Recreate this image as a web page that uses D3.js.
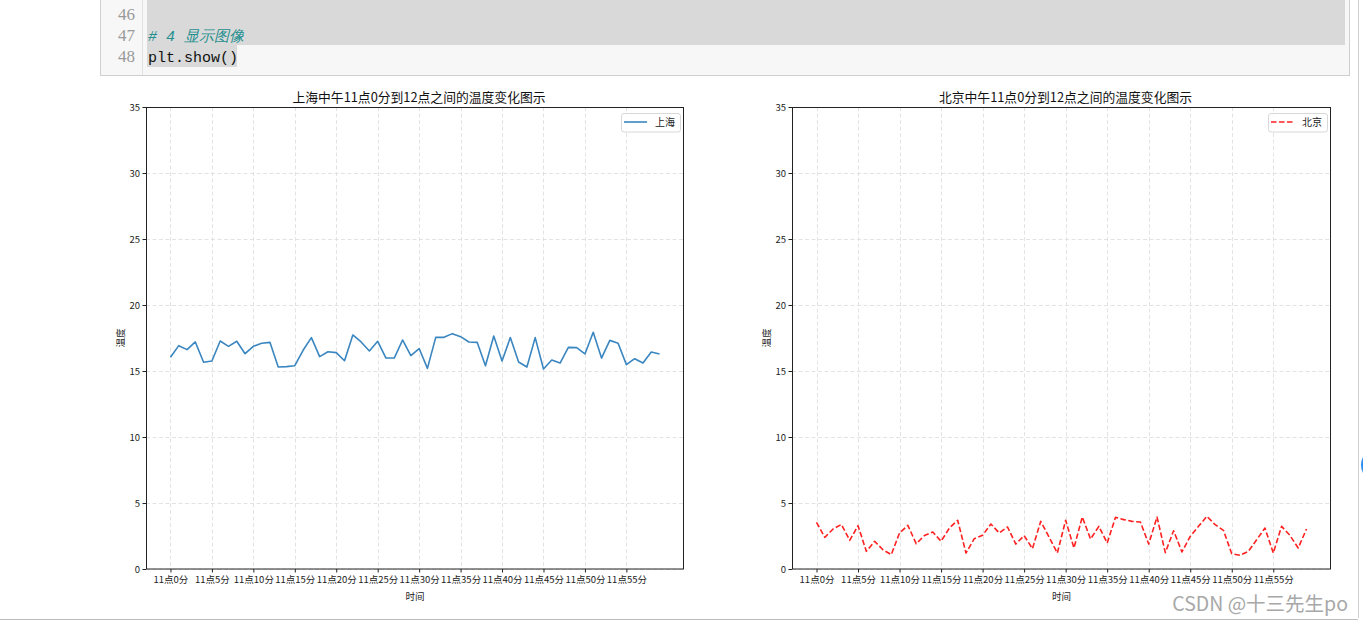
<!DOCTYPE html>
<html><head><meta charset="utf-8">
<script src="https://cdn.jsdelivr.net/npm/d3@7"></script>
<style>
body{margin:0;background:#fff;}
svg{display:block;}
</style></head>
<body>
<svg id="c" width="1363" height="623"></svg>
<script>
// ---- data ----
const minuteIndex = [0,1,2,3,4,5,6,7,8,9,10,11,12,13,14,15,16,17,18,19,20,21,22,23,24,25,26,27,28,29,30,31,32,33,34,35,36,37,38,39,40,41,42,43,44,45,46,47,48,49,50,51,52,53,54,55,56,57,58,59];
const shanghai = [16.04,16.92,16.62,17.2,15.66,15.76,17.27,16.87,17.25,16.31,
  16.87,17.1,17.17,15.3,15.33,15.4,16.57,17.53,16.09,16.46,
  16.39,15.78,17.73,17.2,16.52,17.25,15.98,15.98,17.35,16.16,
  16.7,15.2,17.55,17.55,17.83,17.6,17.2,17.17,15.4,17.65,
  15.76,17.53,15.68,15.3,17.53,15.15,15.83,15.6,16.79,16.77,
  16.29,17.93,15.98,17.32,17.1,15.48,15.93,15.6,16.44,16.29];
const beijing = [3.54,2.4,3.03,3.38,2.17,3.28,1.34,2.1,1.46,1.09,
  2.73,3.31,1.92,2.53,2.8,2.1,3.1,3.69,1.21,2.3,
  2.55,3.41,2.73,3.18,1.89,2.53,1.54,3.61,2.42,1.21,
  3.69,1.59,3.94,2.27,3.23,1.97,3.91,3.74,3.61,3.56,
  1.89,3.94,1.24,2.9,1.29,2.47,3.23,3.99,3.36,2.93,
  1.16,1.04,1.34,2.22,3.1,1.21,3.23,2.55,1.59,3.03];
const xTickPos = [0,5,10,15,20,25,30,35,40,45,50,55];
const xTickLabels = ["11点0分","11点5分","11点10分","11点15分","11点20分","11点25分","11点30分","11点35分","11点40分","11点45分","11点50分","11点55分"];
const yTicks = [0,5,10,15,20,25,30,35];
const titles = ["上海中午11点0分到12点之间的温度变化图示","北京中午11点0分到12点之间的温度变化图示"];
const seriesNames = ["上海","北京"];

// ---- layout ----
const svg = d3.select("#c");
const FONT = "'Noto Sans CJK SC','Noto Sans',sans-serif";
const MONO = "'Liberation Mono','DejaVu Sans Mono',monospace";

// notebook code cell
const cell = svg.append("g");
cell.append("rect").attr("x",100.5).attr("y",-5).attr("width",1249).attr("height",80.5)
  .attr("fill","#f7f7f7").attr("stroke","#cfcfcf");
cell.append("rect").attr("x",147).attr("y",0).attr("width",1198).attr("height",45).attr("fill","#d9d9d9");
cell.append("rect").attr("x",147).attr("y",45).attr("width",90).attr("height",22).attr("fill","#d9d9d9");
cell.append("line").attr("x1",142.5).attr("x2",142.5).attr("y1",0).attr("y2",75).attr("stroke","#e2e2e2");
[["46",20],["47",41],["48",62]].forEach(([t,y])=>{
  cell.append("text").attr("x",135).attr("y",y).attr("text-anchor","end")
    .attr("font-family","'Liberation Serif',serif").attr("font-size",17).attr("fill","#999").text(t);
});
cell.append("text").attr("x",148).attr("y",41).attr("font-family",MONO).attr("font-size",15)
  .attr("font-style","italic").attr("fill","#1f8f8f").text("# 4 显示图像");
cell.append("text").attr("x",148).attr("y",62).attr("font-family",MONO).attr("font-size",15)
  .attr("fill","#111").text("plt.show()");

// outer borders
svg.append("line").attr("x1",1358.5).attr("x2",1358.5).attr("y1",0).attr("y2",618).attr("stroke","#cfcfcf");
svg.append("line").attr("x1",0).attr("x2",1358).attr("y1",619.5).attr("y2",619.5).attr("stroke","#bdbdbd");
svg.append("circle").attr("cx",1378).attr("cy",465).attr("r",16).attr("fill","none").attr("stroke","#2d8cf0").attr("stroke-width",2);

const panels = [
  {x0:146, x1:684, data:shanghai, color:"#3a86c0", dash:null, title:titles[0], name:seriesNames[0]},
  {x0:792, x1:1331, data:beijing, color:"#ff2020", dash:"5.5,2.5", title:titles[1], name:seriesNames[1]}
];
const yTop = 107, yBot = 569;

panels.forEach(p=>{
  const g = svg.append("g");
  const x = d3.scaleLinear().domain([-2.95, 61.95]).range([p.x0, p.x1]);
  const y = d3.scaleLinear().domain([0, 35]).range([yBot, yTop]);

  // grid
  g.append("g").selectAll("line").data(xTickPos).join("line")
    .attr("x1",d=>Math.round(x(d))+0.5).attr("x2",d=>Math.round(x(d))+0.5)
    .attr("y1",yTop).attr("y2",yBot).attr("stroke","#dcdcdc").attr("stroke-width",0.8).attr("stroke-dasharray","4,2.5");
  g.append("g").selectAll("line").data(yTicks).join("line")
    .attr("x1",p.x0).attr("x2",p.x1)
    .attr("y1",d=>Math.round(y(d))+0.5).attr("y2",d=>Math.round(y(d))+0.5)
    .attr("stroke","#dcdcdc").attr("stroke-width",0.8).attr("stroke-dasharray","4,2.5");

  // axes
  const xa = g.append("g").attr("transform",`translate(0,${yBot})`)
    .call(d3.axisBottom(x).tickValues(xTickPos).tickFormat((d,i)=>xTickLabels[i]).tickSize(3.5).tickSizeOuter(0));
  const ya = g.append("g").attr("transform",`translate(${p.x0},0)`)
    .call(d3.axisLeft(y).tickValues(yTicks).tickSize(3.5).tickSizeOuter(0));
  [xa,ya].forEach(a=>{
    a.select(".domain").remove();
    a.selectAll("text").attr("font-family",FONT).attr("font-size",9.5).attr("fill","#222");
    a.selectAll("line").attr("stroke","#222");
  });
  xa.selectAll("text").attr("dy","0.9em").attr("y",5);
  ya.selectAll("text").attr("x",-6);

  // line
  const line = d3.line().x((d,i)=>x(minuteIndex[i])).y(d=>y(d));
  g.append("path").datum(p.data).attr("d",line).attr("fill","none")
    .attr("stroke",p.color).attr("stroke-width",1.6)
    .attr("stroke-dasharray",p.dash).attr("stroke-linejoin","round");

  // spines
  g.append("rect").attr("x",p.x0+0.5).attr("y",yTop+0.5).attr("width",p.x1-p.x0-1).attr("height",yBot-yTop-0.5)
    .attr("fill","none").attr("stroke","#222").attr("stroke-width",1);

  // title / labels
  g.append("text").attr("x",(p.x0+p.x1)/2+4).attr("y",102).attr("text-anchor","middle")
    .attr("font-family",FONT).attr("font-size",12.8).attr("fill","#111").text(p.title);
  g.append("text").attr("x",(p.x0+p.x1)/2).attr("y",600).attr("text-anchor","middle")
    .attr("font-family",FONT).attr("font-size",9.5).attr("fill","#222").text("时间");
  g.append("text").attr("transform",`translate(${p.x0-22},${(yTop+yBot)/2}) rotate(-90)`)
    .attr("text-anchor","middle").attr("font-family",FONT).attr("font-size",9.5).attr("fill","#222").text("温度");

  // legend
  const lx = p.x1-63, ly = 113;
  g.append("rect").attr("x",lx+0.5).attr("y",ly+0.5).attr("width",59).attr("height",18.5).attr("rx",2.5)
    .attr("fill","#fff").attr("fill-opacity",0.8).attr("stroke","#d8d8d8");
  g.append("line").attr("x1",lx+3).attr("x2",lx+26).attr("y1",ly+9).attr("y2",ly+9)
    .attr("stroke",p.color).attr("stroke-width",1.6).attr("stroke-dasharray",p.dash);
  g.append("text").attr("x",lx+34).attr("y",ly+13).attr("font-family",FONT).attr("font-size",10)
    .attr("fill","#222").text(p.name);
});

// watermark
svg.append("text").attr("x",1348).attr("y",611).attr("text-anchor","end")
  .attr("font-family",FONT).attr("font-size",19.5).attr("fill","#a8a8a8").text("CSDN @十三先生po");
</script>
</body></html>
